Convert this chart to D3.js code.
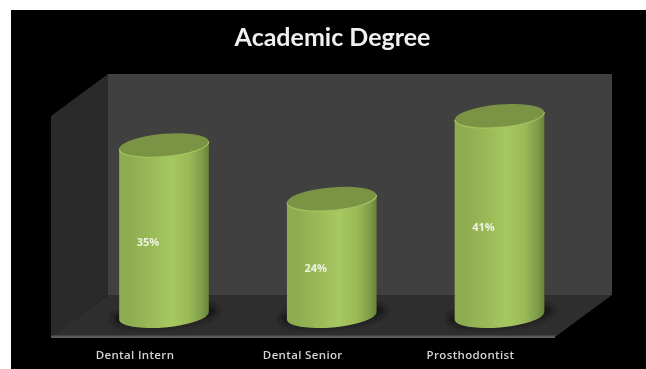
<!DOCTYPE html>
<html><head><meta charset="utf-8">
<script src="https://cdn.jsdelivr.net/npm/d3@7/dist/d3.min.js"></script>
<style>html,body{margin:0;padding:0;background:#fff}svg{display:block}</style>
</head><body><div id="c"></div>
<script>
const categories = ["Dental Intern", "Dental Senior", "Prosthodontist"];
const values = [35, 24, 41];
const chartTitle = "Academic Degree";

const W = 646, H = 369;
const svg = d3.select("#c").append("svg").attr("width", W).attr("height", H);
const defs = svg.append("defs");

const soft = defs.append("filter").attr("id", "soft").attr("x", "-10%").attr("y", "-10%").attr("width", "120%").attr("height", "120%");
soft.append("feGaussianBlur").attr("stdDeviation", 0.6);
const softText = defs.append("filter").attr("id", "softText").attr("x", "-10%").attr("y", "-30%").attr("width", "120%").attr("height", "160%");
softText.append("feGaussianBlur").attr("stdDeviation", 0.4);
const shadowBlur = defs.append("filter").attr("id", "shadowBlur").attr("x", "-20%").attr("y", "-50%").attr("width", "140%").attr("height", "200%");
shadowBlur.append("feGaussianBlur").attr("stdDeviation", 2.5);

const grad = defs.append("linearGradient").attr("id", "cyl");
[[0, "#8fac50"], [0.1, "#8eac50"], [0.4, "#9cbc59"], [0.58, "#a6c860"], [0.78, "#9aba57"], [0.92, "#809d49"], [1, "#68833b"]]
  .forEach(d => grad.append("stop").attr("offset", d[0]).attr("stop-color", d[1]));

// page panel
svg.append("rect").attr("x", 11).attr("y", 10).attr("width", W - 11).attr("height", H - 10).attr("fill", "#000");

const x = d3.scalePoint().domain(categories).range([164, 499.5]);
const y = d3.scaleLinear().domain([0, 41]).range([316, 116]);
const rx = 45, ry = 11.5, tilt = -5;

const g = svg.append("g").attr("filter", "url(#soft)");
// walls and floor
g.append("path").attr("d", d3.line()([[108, 74], [612, 74], [612, 295], [108, 295]]) + "Z").attr("fill", "#404040");
g.append("path").attr("d", d3.line()([[51, 116], [108, 74], [108, 295], [51, 338]]) + "Z").attr("fill", "#292929");
g.append("path").attr("d", d3.line()([[51, 337], [108, 295], [612, 295], [555, 337]]) + "Z").attr("fill", "#2d2d2d");
g.append("rect").attr("x", 51).attr("y", 335.5).attr("width", 504).attr("height", 2.5).attr("fill", "#5a5a5a");

// shadows
g.selectAll("ellipse.sh").data(categories).join("ellipse").attr("class", "sh")
  .attr("cx", d => x(d) + 1).attr("cy", y(0) - 1).attr("rx", rx + 7).attr("ry", ry)
  .attr("transform", d => `rotate(${tilt} ${x(d)} ${y(0)})`)
  .attr("fill", "#151515").attr("filter", "url(#shadowBlur)");

// cylinders
const bars = g.selectAll("g.bar").data(categories).join("g").attr("class", "bar");
const dtX = rx * Math.cos(tilt * Math.PI / 180);
const dtY = rx * Math.sin(tilt * Math.PI / 180);
bars.append("path")
  .attr("d", (d, i) => {
    const cx = x(d), t = y(values[i]), b = y(0);
    return `M${cx - dtX},${t - dtY} L${cx - dtX},${b - dtY} A${rx},${ry} ${tilt} 0 0 ${cx + dtX},${b + dtY} L${cx + dtX},${t + dtY} A${rx},${ry} ${tilt} 0 1 ${cx - dtX},${t - dtY} Z`;
  })
  .attr("fill", "url(#cyl)");
bars.append("ellipse")
  .attr("cx", d => x(d)).attr("cy", (d, i) => y(values[i]))
  .attr("rx", rx).attr("ry", ry)
  .attr("transform", (d, i) => `rotate(${tilt} ${x(d)} ${y(values[i])})`)
  .attr("fill", "#7a9345");
bars.append("path")
  .attr("d", (d, i) => {
    const cx = x(d), t = y(values[i]);
    return `M${cx + dtX},${t + dtY} A${rx},${ry} ${tilt} 0 1 ${cx - dtX},${t - dtY}`;
  })
  .attr("fill", "none").attr("stroke", "#a4c55f").attr("stroke-width", 1.2);

// value labels
const lab = svg.append("g").attr("filter", "url(#softText)").attr("font-family", "'Open Sans', sans-serif");
lab.selectAll("text.val").data(categories).join("text").attr("class", "val")
  .attr("x", d => x(d) - 16)
  .attr("y", (d, i) => (y(values[i]) + y(0)) / 2 + 15)
  .attr("text-anchor", "middle").attr("font-size", 11).attr("font-weight", 700).attr("fill", "#eef2e2")
  .text((d, i) => values[i] + "%");

// category labels
lab.selectAll("text.cat").data(categories).join("text").attr("class", "cat")
  .attr("x", d => x(d) - 29).attr("y", 359)
  .attr("text-anchor", "middle").attr("font-size", 11.5).attr("letter-spacing", 0.35).attr("font-weight", 600).attr("fill", "#d4d4d4")
  .text(d => d);

// title
svg.append("text").attr("x", 332.5).attr("y", 46).attr("text-anchor", "middle")
  .attr("filter", "url(#softText)")
  .attr("font-family", "Lato, sans-serif").attr("font-size", 25).attr("font-weight", 700).attr("fill", "#f0f0f0")
  .text(chartTitle);
</script></body></html>
